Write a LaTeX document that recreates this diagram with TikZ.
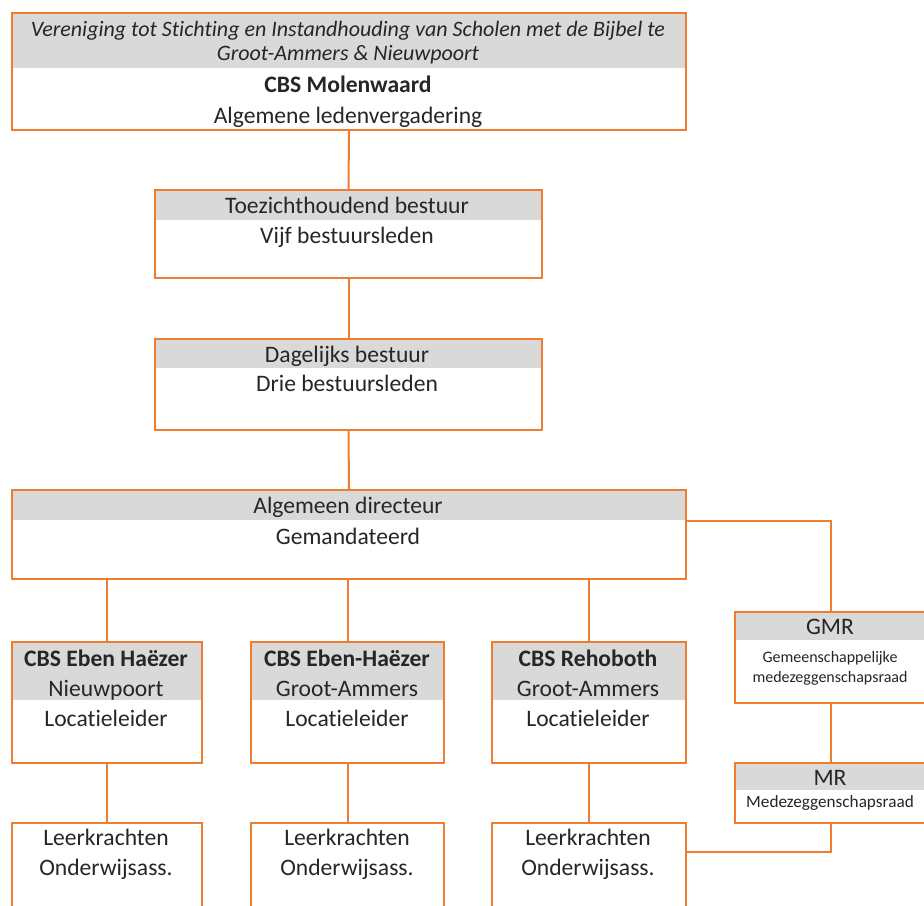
\documentclass[tikz,border=0pt]{standalone}
\usepackage{fontspec}
\setmainfont{Carlito}[Ligatures={NoCommon}]
\usetikzlibrary{positioning}
\definecolor{orgorange}{HTML}{ED7D31}
\definecolor{hdrgray}{HTML}{D9D9D9}
\definecolor{txtgray}{HTML}{262626}
\tikzset{box/.style={draw=orgorange, line width=1pt, inner sep=0pt, anchor=north west},
  hdr/.style={fill=hdrgray, inner sep=0pt, anchor=north west},
  txt/.style={text=txtgray, inner sep=0pt, text height=10pt, text depth=1.5pt, font=\fontsize{11.8}{14}\selectfont},
  small/.style={txt, text height=7pt, text depth=1.5pt, font=\fontsize{8}{10}\selectfont},
  link/.style={draw=orgorange, line width=1pt}}

\begin{document}
\begin{tikzpicture}[x=0.5pt, y=-0.5pt]
  \useasboundingbox (0,0) rectangle (924,905);
  \fill[white] (0,0) rectangle (924,905);
  \clip (0,0) rectangle (924,905);
  % vereniging
  \node[hdr, minimum width=337pt, minimum height=28pt] (verh) at (11,12) {};
  \node[box, minimum width=337pt, minimum height=58.5pt] (ver) at (11,12) {};
  \node[txt, font=\fontsize{11}{13}\selectfont\itshape] (ver1) at (348,28) {Vereniging tot Stichting en Instandhouding van Scholen met de Bijbel te};
  \node[txt, font=\fontsize{11}{13}\selectfont\itshape] (ver2) at (348,52) {Groot-Ammers \& Nieuwpoort};
  \node[txt, font=\fontsize{11.8}{14}\selectfont\bfseries] (ver3) at (348,84) {CBS Molenwaard};
  \node[txt] (ver4) at (348,115) {Algemene ledenvergadering};
  % toezicht
  \node[hdr, minimum width=193.5pt, minimum height=15.5pt] (toeh) at (154,189) {};
  \node[box, minimum width=193.5pt, minimum height=44pt] (toe) at (154,189) {};
  \node[txt] (toe1) at (347,205) {Toezichthoudend bestuur};
  \node[txt] (toe2) at (347,235) {Vijf bestuursleden};
  % dagelijks
  \node[hdr, minimum width=193.5pt, minimum height=15pt] (dagh) at (154,338) {};
  \node[box, minimum width=193.5pt, minimum height=45.5pt] (dag) at (154,338) {};
  \node[txt] (dag1) at (347,354) {Dagelijks bestuur};
  \node[txt] (dag2) at (347,383) {Drie bestuursleden};
  % directeur
  \node[hdr, minimum width=337pt, minimum height=15.5pt] (dirh) at (11,489) {};
  \node[box, minimum width=337pt, minimum height=44.5pt] (dir) at (11,489) {};
  \node[txt] (dir1) at (348,505) {Algemeen directeur};
  \node[txt] (dir2) at (348,536) {Gemandateerd};
  % scholen
  \node[hdr, minimum width=95pt, minimum height=29.5pt] (sah) at (11,641) {};
  \node[box, minimum width=95pt, minimum height=60.5pt] (sa) at (11,641) {};
  \node[txt, font=\fontsize{11.8}{14}\selectfont\bfseries] (sa1) at (106,658) {CBS Eben Haëzer};
  \node[txt] (sa2) at (106,688) {Nieuwpoort};
  \node[txt] (sa3) at (106,718) {Locatieleider};
  \node[hdr, minimum width=96.5pt, minimum height=29.5pt] (sbh) at (250,641) {};
  \node[box, minimum width=96.5pt, minimum height=60.5pt] (sb) at (250,641) {};
  \node[txt, font=\fontsize{11.8}{14}\selectfont\bfseries] (sb1) at (347,658) {CBS Eben-Haëzer};
  \node[txt] (sb2) at (347,688) {Groot-Ammers};
  \node[txt] (sb3) at (347,718) {Locatieleider};
  \node[hdr, minimum width=97pt, minimum height=29.5pt] (sch) at (491,641) {};
  \node[box, minimum width=97pt, minimum height=60.5pt] (sc) at (491,641) {};
  \node[txt, font=\fontsize{11.8}{14}\selectfont\bfseries] (sc1) at (588,658) {CBS Rehoboth};
  \node[txt] (sc2) at (588,688) {Groot-Ammers};
  \node[txt] (sc3) at (588,718) {Locatieleider};
  % personeel
  \node[box, minimum width=95pt, minimum height=45pt] (pa) at (11,822) {};
  \node[txt] (pa1) at (106,837) {Leerkrachten};
  \node[txt] (pa2) at (106,867) {Onderwijsass.};
  \node[box, minimum width=96.5pt, minimum height=45pt] (pb) at (250,822) {};
  \node[txt] (pb1) at (347,837) {Leerkrachten};
  \node[txt] (pb2) at (347,867) {Onderwijsass.};
  \node[box, minimum width=97pt, minimum height=45pt] (pc) at (491,822) {};
  \node[txt] (pc1) at (588,837) {Leerkrachten};
  \node[txt] (pc2) at (588,867) {Onderwijsass.};
  % medezeggenschap
  \node[hdr, minimum width=96pt, minimum height=14.5pt] (gmrh) at (734,611) {};
  \node[box, minimum width=96pt, minimum height=45.5pt] (gmr) at (734,611) {};
  \node[txt] (gmr1) at (830,626) {GMR};
  \node[small] (gmr2) at (830,657) {Gemeenschappelijke};
  \node[small] (gmr3) at (830,677) {medezeggenschapsraad};
  \node[hdr, minimum width=96pt, minimum height=14pt] (mrh) at (734,762) {};
  \node[box, minimum width=96pt, minimum height=30pt] (mr) at (734,762) {};
  \node[txt] (mr1) at (830,777) {MR};
  \node[small, font=\fontsize{8.6}{10}\selectfont] (mr2) at (830,802) {Medezeggenschapsraad};
  % lijnen
  \draw[link] (ver.south) -- (toe.north);
  \draw[link] (toe.south) -- (dag.north);
  \draw[link] (dag.south) -- (dir.north);
  \draw[link] (dir.south -| sa.north) -- (sa.north);
  \draw[link] (dir.south -| sb.north) -- (sb.north);
  \draw[link] (dir.south -| sc.north) -- (sc.north);
  \draw[link] (sa.south) -- (pa.north);
  \draw[link] (sb.south) -- (pb.north);
  \draw[link] (sc.south) -- (pc.north);
  \draw[link] (dirh.south east) -| (gmr.north);
  \draw[link] (gmr.south) -- (mr.north);
  \draw[link] (mr.south) |- (pc.north east |- 0,852);
\end{tikzpicture}
\end{document}
